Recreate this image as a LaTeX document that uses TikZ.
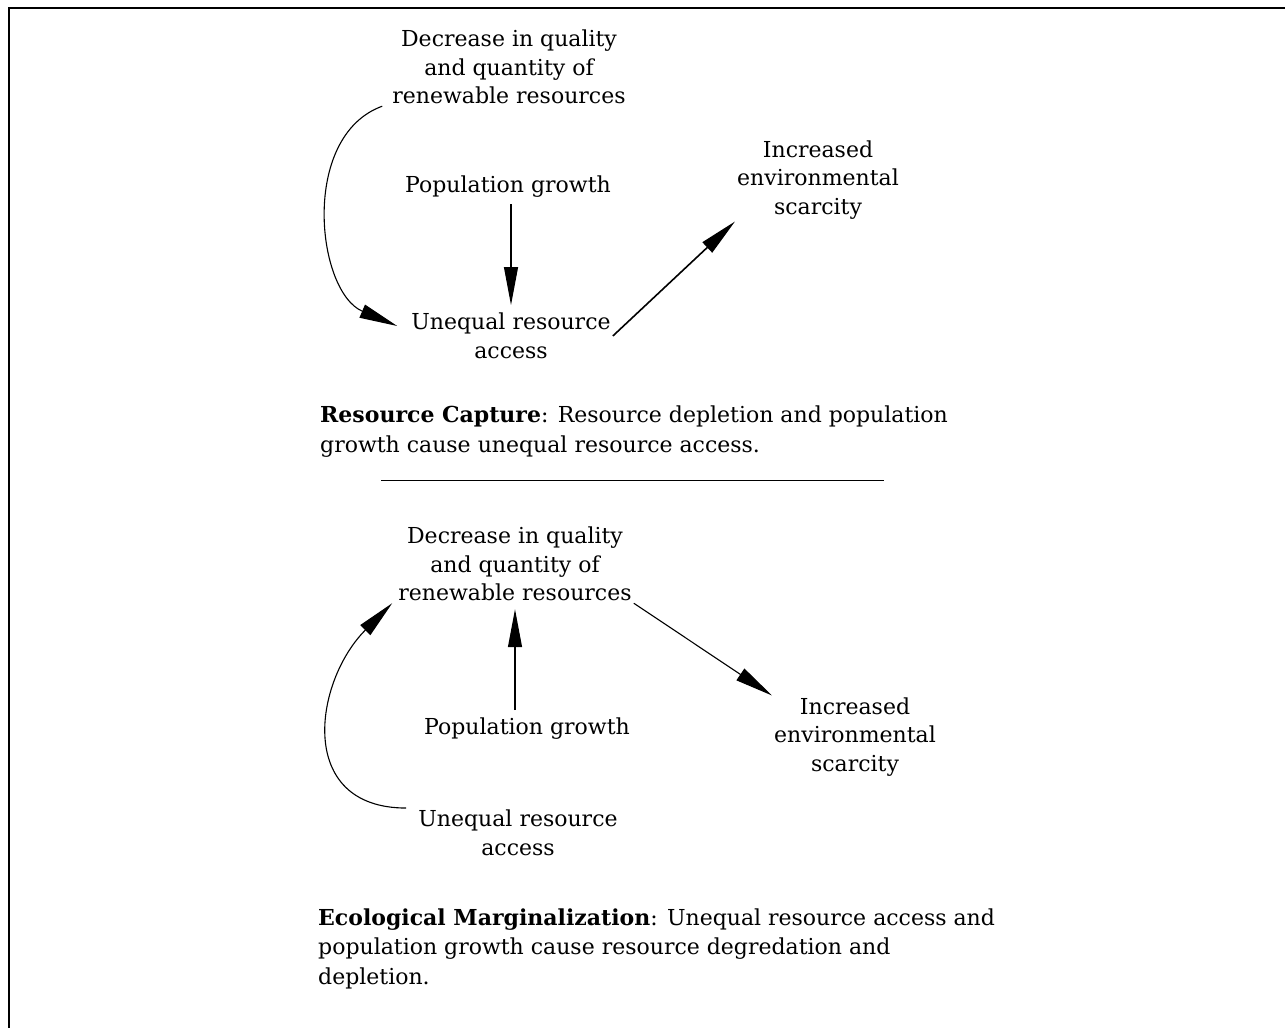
\documentclass[tikz,border=0pt]{standalone}
\usepackage{fontspec}
\setmainfont{DejaVu Serif}
\usetikzlibrary{arrows.meta}

\begin{document}
\begin{tikzpicture}[x=1pt, y=-1pt,
    lbl/.style={align=center, inner sep=2pt, font=\fontsize{22}{28.5}\selectfont},
    captxt/.style={align=left, anchor=base west, inner sep=0pt, font=\fontsize{22}{29.5}\selectfont},
    arr/.style={-{Triangle[length=38pt,width=14pt]}, line width=1.1pt}]
\useasboundingbox (0,0) rectangle (1285,1028);
\draw[line width=2.5pt] (9,1028) -- (9,8) -- (1285,8);

% resource capture
\node[lbl] (dec1) at (509,67) {Decrease in quality\\and quantity of\\renewable resources};
\node[lbl] (pop1) at (508,187) {Population growth};
\node[lbl] (uneq1) at (511,336) {Unequal resource\\access};
\node[lbl] (scar1) at (818,180) {Increased\\environmental\\scarcity};
\draw[arr] ([xshift=-8pt]dec1.south west) to[out=200, in=157, looseness=1.02] ([shift={(-12,-10)}]uneq1.west);
\draw[arr, shorten <=4pt, shorten >=6pt] (pop1.south -| uneq1) -- (uneq1.north);
\draw[arr, line width=1.6pt] (uneq1.east) -- (scar1.south west);
\node[captxt] (cap1) at (320,452) {\textbf{Resource Capture}:  Resource depletion and population\\growth cause unequal resource access.};
\draw[line width=1pt] (381,480) -- (884,480);

% ecological marginalization
\node[lbl] (dec2) at (515,564) {Decrease in quality\\and quantity of\\renewable resources};
\node[lbl] (pop2) at (527,729) {Population growth};
\node[lbl] (uneq2) at (518,833) {Unequal resource\\access};
\node[lbl] (scar2) at (855,737) {Increased\\environmental\\scarcity};
\draw[arr] ([xshift=-10pt]uneq2.north west) to[out=180, in=225, looseness=1.38] ([xshift=-4pt]dec2.south west);
\draw[arr, shorten <=6pt, shorten >=6pt] (pop2.north -| dec2.south) -- (dec2.south);
\draw[arr] (dec2.south east) -- (scar2.north west);
\node[captxt] (cap2) at (318,984) {\textbf{Ecological Marginalization}:  Unequal resource access and\\population growth cause resource degredation and\\depletion.};
\end{tikzpicture}
\end{document}
